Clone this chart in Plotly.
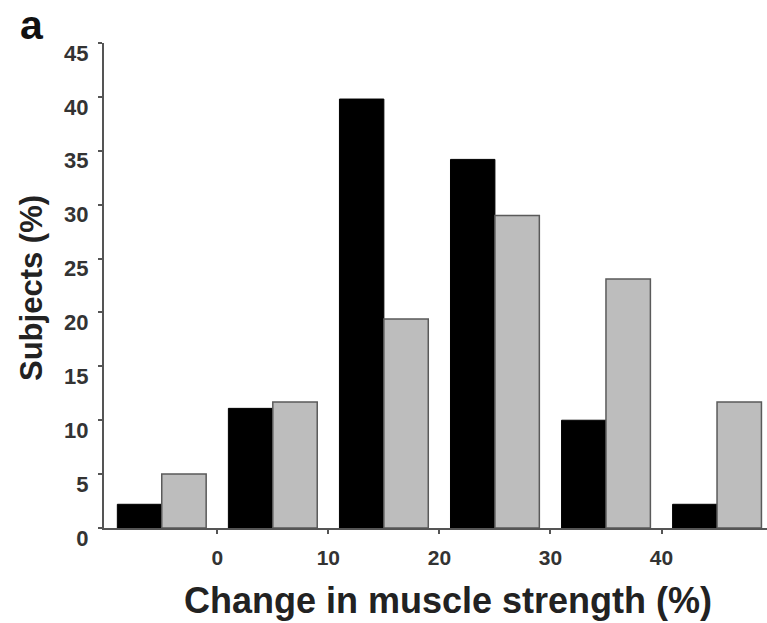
import plotly.graph_objects as go

bin_centers = [-5, 5, 15, 25, 35, 45]
group_black = [2.2, 11.1, 39.8, 34.2, 10.0, 2.2]
group_gray = [5.0, 11.7, 19.4, 29.0, 23.1, 11.7]
x_ticks = [0, 10, 20, 30, 40]
y_ticks = [0, 5, 10, 15, 20, 25, 30, 35, 40, 45]

FONT = "Liberation Sans, Arial, sans-serif"

fig = go.Figure()
fig.add_trace(go.Bar(x=bin_centers, y=group_black, marker=dict(color="#000000", line=dict(color="#000000", width=1))))
fig.add_trace(go.Bar(x=bin_centers, y=group_gray, marker=dict(color="#bdbdbd", line=dict(color="#5a5a5a", width=1.5))))

fig.update_layout(
    width=767, height=623,
    margin=dict(l=104, r=0, t=43, b=95, autoexpand=False),
    paper_bgcolor="white", plot_bgcolor="white",
    barmode="group", bargap=0.2, bargroupgap=0,
    showlegend=False,
    font=dict(family=FONT, color="#222"),
)
fig.update_xaxes(
    range=[-10.2, 49.5], tickvals=x_ticks, ticktext=[str(v) for v in x_ticks],
    showgrid=False, zeroline=False, showline=True, linecolor="#555", linewidth=2,
    ticks="outside", ticklen=4, tickwidth=2, tickcolor="#555", automargin=False,
    tickfont=dict(family=FONT, size=21, color="#333", weight="bold"),
    ticklabelstandoff=6,
)
fig.update_yaxes(
    range=[0, 45], tickvals=y_ticks, ticktext=[str(v) for v in y_ticks],
    showgrid=False, zeroline=False, showline=True, linecolor="#555", linewidth=2,
    ticks="outside", ticklen=4, tickwidth=2, tickcolor="#555", automargin=False,
    tickfont=dict(family=FONT, size=22, color="#333", weight="bold"),
    ticklabelshift=10, ticklabelstandoff=5,
)

fig.add_annotation(text="Change in muscle strength (%)", xref="paper", yref="paper",
                   x=(448 - 104) / 663, y=-(600 - 528) / 485, xanchor="center", yanchor="middle",
                   showarrow=False, font=dict(family=FONT, size=36, color="#222", weight="bold"))
fig.add_annotation(text="Subjects (%)", xref="paper", yref="paper", textangle=-90,
                   x=-(104 - 31) / 663, y=(528 - 288) / 485, xanchor="center", yanchor="middle",
                   showarrow=False, font=dict(family=FONT, size=31, color="#222", weight="bold"))
fig.add_annotation(text="a", xref="paper", yref="paper",
                   x=-(104 - 32) / 663, y=(528 - 0) / 485, xanchor="center", yanchor="top",
                   showarrow=False, font=dict(family=FONT, size=41, color="#111", weight="bold"))

fig.write_html("out.html", post_script="document.body.style.margin='0';",
               config={"displayModeBar": False})
